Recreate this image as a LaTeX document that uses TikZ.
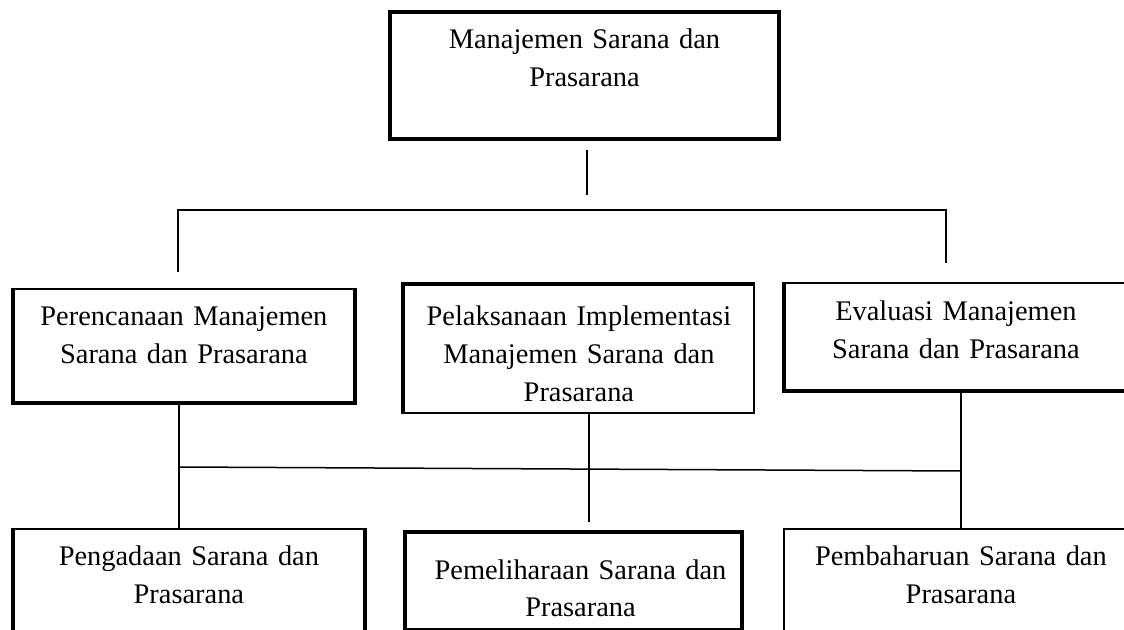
\documentclass[tikz,border=0pt]{standalone}
\usepackage{fontspec}
\setmainfont{Liberation Serif}

\tikzset{
  box/.style={draw, line width=0.9pt, anchor=north west, inner sep=0pt,
    align=center, font=\fontsize{14.2}{18.8}\selectfont},
  boldbox/.style={box, line width=2pt},
  heavy/.style={line width=2pt},
  link/.style={line width=0.75pt},
}

\begin{document}
\begin{tikzpicture}[x=1pt, y=-1pt]
  \useasboundingbox (0,0) rectangle (562,315);

  % top
  \node[boldbox, text width=194.5pt, text height=18.25pt, text depth=45.25pt]
    (mgmt) at (194,5) {Manajemen Sarana dan\\Prasarana};

  % second row
  \node[box, text width=170pt, text height=18.5pt, text depth=38pt]
    (plan) at (6.5,144) {Perencanaan Manajemen\\Sarana dan Prasarana};
  \node[box, text width=175pt, text height=20.5pt, text depth=43.5pt]
    (impl) at (201.5,142) {Pelaksanaan Implementasi\\Manajemen Sarana dan\\Prasarana};
  \node[box, text width=171pt, text height=19pt, text depth=34.5pt]
    (eval) at (392,141) {Evaluasi Manajemen\\Sarana dan Prasarana};

  % third row
  \node[box, text width=175pt, text height=18.5pt, text depth=57.5pt]
    (procure) at (6.5,264) {Pengadaan Sarana dan\\Prasarana};
  \node[boldbox, text width=168.5pt, text height=23.5pt, text depth=25.5pt]
    (upkeep) at (201.5,265) {\hspace*{7pt}Pemeliharaan Sarana dan\\\hspace*{7pt}Prasarana};
  \node[box, text width=177pt, text height=18.5pt, text depth=57.5pt]
    (renew) at (391.5,264) {Pembaharuan Sarana dan\\Prasarana};

  % heavier sides
  \draw[heavy] (plan.north west) -- (plan.south west) -- (plan.south east) -- (plan.north east);
  \draw[heavy] (impl.south west) -- (impl.north west) -- (impl.north east);
  \draw[heavy] (eval.north west) -- (eval.south west) -- (eval.south east);
  \draw[heavy] (procure.north west) -- (procure.south west);
  \draw[heavy] (procure.north east) -- (procure.south east);

  % upper tree
  \coordinate (stubA) at (293.5,75);
  \coordinate (stubB) at (293.5,97.5);
  \coordinate (barL) at (89,105);
  \coordinate (barR) at (473,105);
  \coordinate (dropL) at (89,136);
  \coordinate (dropR) at (473,131.5);
  \draw[link] (stubA) -- (stubB);
  \draw[link] (dropL) -- (barL) -- (barR) -- (dropR);

  % lower tree
  \coordinate (busL) at (89.5,233.5);
  \coordinate (busR) at (480.5,235.5);
  \coordinate (midA) at (294.5,206);
  \coordinate (midB) at (294.5,261);
  \draw[link] (busL |- plan.south) -- (busL |- procure.north);
  \draw[link] (busR |- eval.south) -- (busR |- renew.north);
  \draw[link] (busL) -- (busR);
  \draw[link] (midA) -- (midB);
\end{tikzpicture}
\end{document}
